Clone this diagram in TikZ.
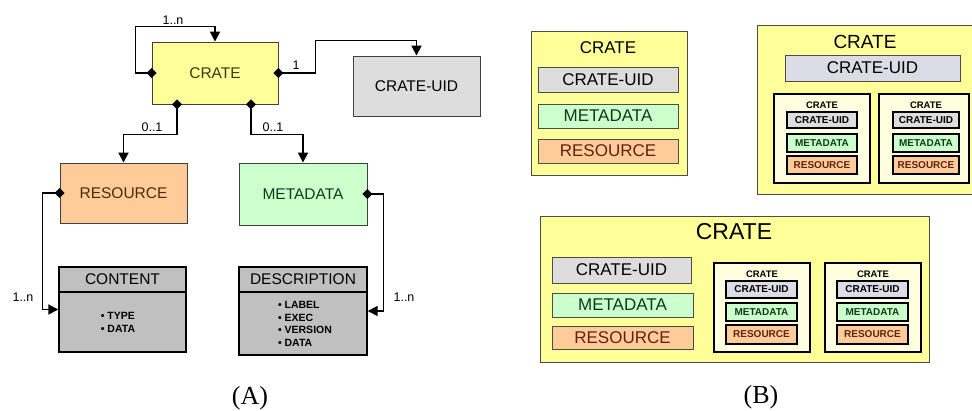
\documentclass[tikz,border=0pt]{standalone}
\usepackage{fontspec}
\setmainfont{Liberation Sans}
\newfontfamily\capfont{Liberation Serif}
\usetikzlibrary{arrows.meta}

\definecolor{crateyellow}{HTML}{FFFF99}
\definecolor{cratecream}{HTML}{FFFFE0}
\definecolor{uidgray}{HTML}{DDDDDD}
\definecolor{uidlilac}{HTML}{DCDCE6}
\definecolor{metagreen}{HTML}{CCFFCC}
\definecolor{resorange}{HTML}{FFCC99}
\definecolor{listgray}{HTML}{C0C0C0}
\definecolor{inkolive}{HTML}{3A3A12}
\definecolor{inkbrown}{HTML}{4A2C08}
\definecolor{inkgreen}{HTML}{0E3A1C}
\definecolor{inkred}{HTML}{5E2210}

\tikzset{
  entity/.style={draw=black!75, line width=0.9pt, inner sep=0pt,
    font=\fontsize{15.5}{18}\selectfont},
  listbox/.style={draw=black, line width=1.4pt, fill=listgray, inner sep=0pt},
  items/.style={align=left, inner sep=0pt, font=\bfseries\fontsize{10.5}{12.7}\selectfont},
  link/.style={line width=1.8pt, {Diamond[length=10pt,width=10pt]}-{Triangle[length=10pt,width=10pt]},
    shorten <=-5pt},
  mult/.style={inner sep=0pt, font=\fontsize{12.5}{14}\selectfont},
  outer/.style={draw=black!70, line width=0.9pt, fill=crateyellow, inner sep=0pt},
  part/.style={draw=black!70, line width=0.9pt, inner sep=0pt,
    font=\fontsize{17}{20}\selectfont},
  minicrate/.style={draw=black, line width=2.2pt, fill=cratecream, inner sep=0pt},
  minipart/.style={draw=black, line width=2.2pt, inner sep=0pt,
    font=\bfseries\fontsize{10}{11}\selectfont},
  minititle/.style={inner sep=0pt, font=\bfseries\fontsize{9.5}{11}\selectfont},
}

\begin{document}
\begin{tikzpicture}[x=1pt,y=-1pt]
\useasboundingbox (0,0) rectangle (972,411);
\clip (0,0) rectangle (972,411);

% (A) data model
\node[entity, fill=crateyellow, text=inkolive, minimum width=126, minimum height=62] (crate) at (215,73) {CRATE};
\node[entity, fill=uidgray, minimum width=127, minimum height=60] (uid) at (416.5,86) {CRATE-UID};
\node[entity, fill=resorange, text=inkbrown, minimum width=127, minimum height=60] (res) at (123.5,193) {RESOURCE};
\node[entity, fill=metagreen, text=inkgreen, minimum width=128, minimum height=62] (meta) at (303,194) {METADATA};

\node[listbox, minimum width=127, minimum height=85] (content) at (122.5,309.5) {};
\node[listbox, anchor=north, minimum width=127, minimum height=25,
  font=\fontsize{15.5}{18}\selectfont] (contenthead) at (content.north) {CONTENT};
\node[items] (contentitems) at (118,322.5) {• TYPE\\• DATA};

\node[listbox, minimum width=128, minimum height=88] (desc) at (303,311) {};
\node[listbox, anchor=north, minimum width=128, minimum height=25,
  font=\fontsize{15.5}{18}\selectfont] (deschead) at (desc.north) {DESCRIPTION};
\node[items] (descitems) at (305,324) {• LABEL\\• EXEC\\• VERSION\\• DATA};

\draw[link] (crate.west) -- ++(-16,0) |- ([yshift=15pt]crate.north) -- (crate.north);
\draw[link] (crate.east) -- ++(37,0) |- ([yshift=15pt]uid.north) -- (uid.north);
\draw[link] ([xshift=-38pt]crate.south) -- ++(0,30) -| (res.north);
\draw[link] ([xshift=36pt]crate.south) -- ++(0,30) -| (meta.north);
\draw[link] (res.west) -- ++(-17,0) |- (content.west);
\draw[link] (meta.east) -- ++(16,0) |- (desc.east);

\node[mult] (selfmult) at (173,20) {1..n};
\node[mult] (uidmult) at (296,65) {1};
\node[mult] (resmult) at (152,127) {0..1};
\node[mult] (metamult) at (273,127) {0..1};
\node[mult] (contentmult) at (23,297) {1..n};
\node[mult] (descmult) at (404,297) {1..n};

\node[font=\capfont\fontsize{26}{30}\selectfont] (capA) at (250,398) {(A)};

% (B) nesting of crates
\node[outer, minimum width=156, minimum height=144] (c1) at (609,103) {};
\node[inner sep=0pt, font=\fontsize{17}{20}\selectfont] (c1title) at (608,48) {CRATE};
\node[part, fill=uidgray, minimum width=140, minimum height=25] (c1uid) at (608,79.5) {CRATE-UID};
\node[part, fill=metagreen, text=inkgreen, minimum width=140, minimum height=24] (c1meta) at (608,116) {METADATA};
\node[part, fill=resorange, text=inkred, minimum width=140, minimum height=24] (c1res) at (608,151) {RESOURCE};

\node[outer, minimum width=219, minimum height=169] (c2) at (866.5,109.5) {};
\node[inner sep=0pt, font=\fontsize{19}{22}\selectfont] (c2title) at (865,42) {CRATE};
\node[part, fill=uidlilac, minimum width=175, minimum height=26] (c2uid) at (872.5,68) {CRATE-UID};

\node[minicrate, minimum width=96, minimum height=89] (c2a) at (822,138.5) {};
\node[minititle] (c2atitle) at (822,105) {CRATE};
\node[minipart, fill=uidgray, minimum width=70, minimum height=16] (c2auid) at (822,120) {CRATE-UID};
\node[minipart, fill=metagreen, text=inkgreen, minimum width=70, minimum height=18] (c2ameta) at (822,143) {METADATA};
\node[minipart, fill=resorange, text=inkred, minimum width=70, minimum height=18] (c2ares) at (822,165) {RESOURCE};

\node[minicrate, minimum width=90, minimum height=89] (c2b) at (924,138.5) {};
\node[minititle] (c2btitle) at (926,105) {CRATE};
\node[minipart, fill=uidgray, minimum width=66, minimum height=16] (c2buid) at (926,120) {CRATE-UID};
\node[minipart, fill=metagreen, text=inkgreen, minimum width=66, minimum height=18] (c2bmeta) at (926,143) {METADATA};
\node[minipart, fill=resorange, text=inkred, minimum width=66, minimum height=18] (c2bres) at (926,165) {RESOURCE};

\node[outer, minimum width=389, minimum height=146] (c3) at (734.5,289) {};
\node[inner sep=0pt, font=\fontsize{23}{26}\selectfont] (c3title) at (734,232) {CRATE};
\node[part, fill=uidgray, minimum width=139, minimum height=26] (c3uid) at (621.5,270) {CRATE-UID};
\node[part, fill=metagreen, text=inkgreen, minimum width=141, minimum height=24] (c3meta) at (622.5,305) {METADATA};
\node[part, fill=resorange, text=inkred, minimum width=141, minimum height=23] (c3res) at (622.5,337.5) {RESOURCE};

\node[minicrate, minimum width=96, minimum height=89] (c3a) at (762,307.5) {};
\node[minititle] (c3atitle) at (762,274) {CRATE};
\node[minipart, fill=uidlilac, minimum width=71, minimum height=17] (c3auid) at (761.5,289.5) {CRATE-UID};
\node[minipart, fill=metagreen, text=inkgreen, minimum width=71, minimum height=18] (c3ameta) at (761.5,312) {METADATA};
\node[minipart, fill=resorange, text=inkred, minimum width=71, minimum height=19] (c3ares) at (761.5,334.5) {RESOURCE};

\node[minicrate, minimum width=96, minimum height=89] (c3b) at (873,307.5) {};
\node[minititle] (c3btitle) at (873,274) {CRATE};
\node[minipart, fill=uidlilac, minimum width=71, minimum height=17] (c3buid) at (872.5,289.5) {CRATE-UID};
\node[minipart, fill=metagreen, text=inkgreen, minimum width=71, minimum height=18] (c3bmeta) at (872.5,312) {METADATA};
\node[minipart, fill=resorange, text=inkred, minimum width=71, minimum height=19] (c3bres) at (872.5,334.5) {RESOURCE};

\node[font=\capfont\fontsize{26}{30}\selectfont] (capB) at (761,397) {(B)};
\end{tikzpicture}
\end{document}
